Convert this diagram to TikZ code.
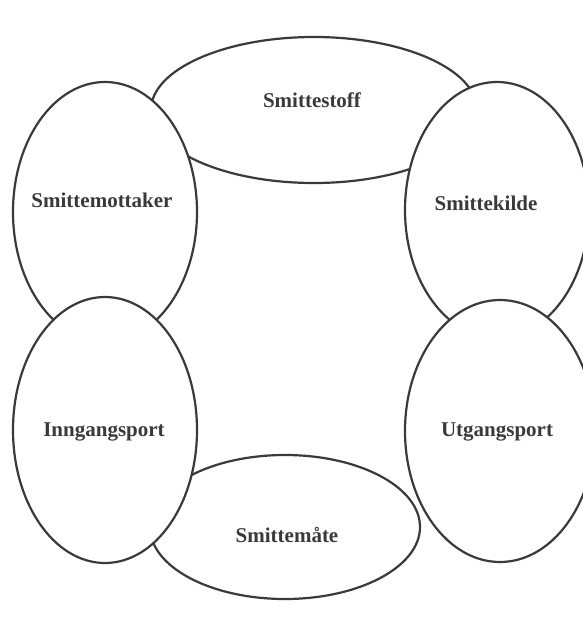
\documentclass[tikz,border=0pt]{standalone}
\usepackage{fontspec}
\setmainfont{Liberation Serif}
\usetikzlibrary{shapes.geometric}
\definecolor{ink}{HTML}{3A3A3A}
\begin{document}
\begin{tikzpicture}[x=1pt,y=-1pt,
  ring/.style={draw=ink,line width=2.2pt,fill=white,ellipse,inner sep=0pt},
  lbl/.style={text=ink,font=\fontsize{21}{25}\selectfont\bfseries}]
\useasboundingbox (0,0) rectangle (583,627);
\begin{scope}
\clip (0,0) rectangle (583,627);
% back layer
\node[ring,minimum width=326pt,minimum height=146pt] (stoff) at (314,110) {};
\node[ring,minimum width=270pt,minimum height=144pt] (maate) at (285,527) {};
% middle layer
\node[ring,minimum width=184pt,minimum height=260pt] (mottaker) at (105,212) {};
\node[ring,minimum width=184pt,minimum height=256pt] (kilde) at (497,210) {};
% front layer
\node[ring,minimum width=184pt,minimum height=266pt] (inngang) at (105,430) {};
\node[ring,minimum width=190pt,minimum height=262pt] (utgang) at (500,431) {};
\end{scope}
\node[lbl] (tstoff) at (312,100) {Smittestoff};
\node[lbl] (tmaate) at (287,535) {Smittemåte};
\node[lbl] (tmottaker) at (102,200) {Smittemottaker};
\node[lbl] (tkilde) at (486,203) {Smittekilde};
\node[lbl] (tinngang) at (104,432) {Inngangsport};
\node[lbl] (tutgang) at (497,432) {Utgangsport};
\end{tikzpicture}
\end{document}
